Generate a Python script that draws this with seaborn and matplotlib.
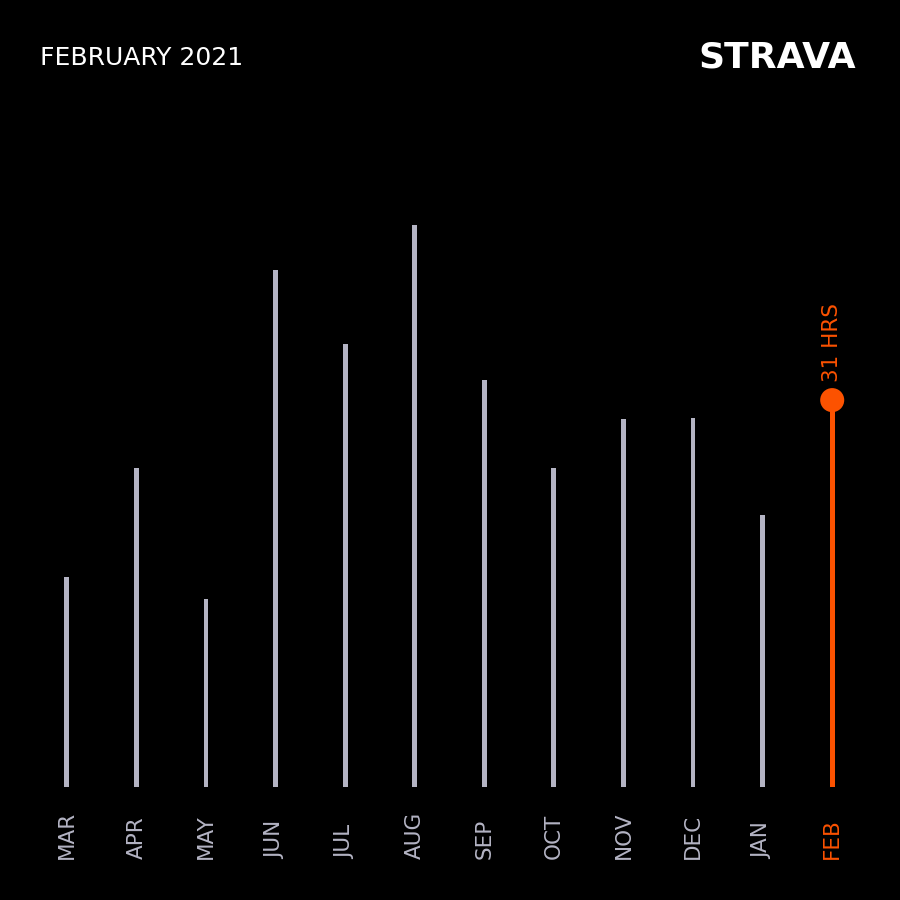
import pandas as pd
import seaborn as sns
import matplotlib.pyplot as plt

months = ['MAR', 'APR', 'MAY', 'JUN', 'JUL', 'AUG', 'SEP', 'OCT', 'NOV', 'DEC', 'JAN', 'FEB']
hours = [16.8, 25.6, 15.1, 41.4, 35.5, 45.0, 32.6, 25.6, 29.5, 29.6, 21.8, 31.0]
title = 'FEBRUARY 2021'
current_label = '31 HRS'

grey = '#b4b4c4'
orange = '#fc5200'

df = pd.DataFrame({'month': months, 'hours': hours})
colors = [grey] * (len(months) - 1) + [orange]

sns.set_style('dark')
plt.rcParams['font.family'] = ['DejaVu Sans']

fig = plt.figure(figsize=(9, 9), dpi=100, facecolor='black')
ax = fig.add_axes([32 / 900, 1 - 787 / 900, 835 / 900, 624 / 900])
ax.set_facecolor('black')

sns.barplot(data=df, x='month', y='hours', hue='month', palette=colors,
            width=0.07, legend=False, ax=ax, saturation=1, linewidth=0)
ax.set_ylim(0, 50)
ax.set_xlim(-0.5, len(months) - 0.5)
ax.axis('off')

# highlight dot on current month
last = len(months) - 1
ax.scatter([last], [hours[last]], s=300, color=orange, zorder=5, edgecolor='none')
ax.annotate(current_label, xy=(last, hours[last]), xytext=(0, 13),
            textcoords='offset points', rotation=90, ha='center', va='bottom',
            color=orange, fontsize=15.5)

# month labels under the bars
for i, m in enumerate(months):
    ax.annotate(m, xy=(i, 0), xycoords='data', xytext=(0, -52),
                textcoords='offset points', rotation=90, ha='center', va='bottom',
                color=orange if i == last else grey, fontsize=15.5)

fig.text(40 / 900, 1 - 58 / 900, title, color='white', fontsize=18,
         ha='left', va='center')
fig.text(856 / 900, 1 - 58 / 900, 'STRAVA', color='white', fontsize=26,
         fontweight='heavy', ha='right', va='center')

fig.savefig('out.png', dpi=100, facecolor='black')
